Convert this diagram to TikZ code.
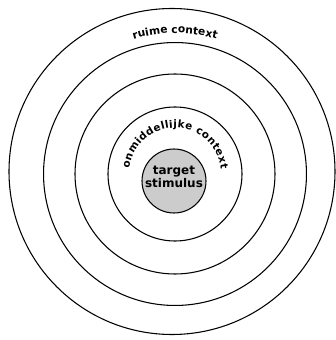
\documentclass[tikz,border=0pt]{standalone}
\usepackage{fontspec}
\setsansfont{DejaVu Sans}
\usetikzlibrary{decorations.text}
\tikzset{
	ring/.style={draw, line width=0.8pt},
	stimulus/.style={shape=circle, draw, line width=0.8pt, fill=gray!40, inner sep=0, minimum size=48pt},
	stimtext/.style={align=center, font=\sffamily\bfseries\fontsize{9}{9.5}\selectfont},
	arclabel/.style={decorate, decoration={text along path, text align=center, text={|\sffamily\bfseries\fontsize{8}{9}\selectfont|#1}}},
	fitlabel/.style={decorate, decoration={text along path, text align=fit to path, text={|\sffamily\bfseries\fontsize{7.8}{9}\selectfont|#1}}}
}
\begin{document}
\begin{tikzpicture}[x=0.75pt, y=0.75pt]
	\useasboundingbox (0,0) rectangle (336,340);
	% Rings:
	\coordinate (c) at (175,166);
	\draw[ring] (172,168.5) circle[radius=122.25pt];
	\draw[ring] (c) circle[radius=98.6pt];
	\draw[ring] (c) circle[radius=75pt];
	\draw[ring] (c) circle[radius=50.25pt];
	% Centre and labels:
	\node[stimulus] (stim) at (174,159) {};
	\node[stimtext] (stimtxt) at ([yshift=3pt]stim.center) {target\\stimulus};
	\path[arclabel=ruime context] (c) ++(110:105.75pt) arc[start angle=110, end angle=70, radius=105.75pt];
	\path[fitlabel=onmiddellijke context] (c) ++(173:34.5pt) arc[start angle=173, end angle=6, radius=34.5pt];
\end{tikzpicture}
\end{document}
